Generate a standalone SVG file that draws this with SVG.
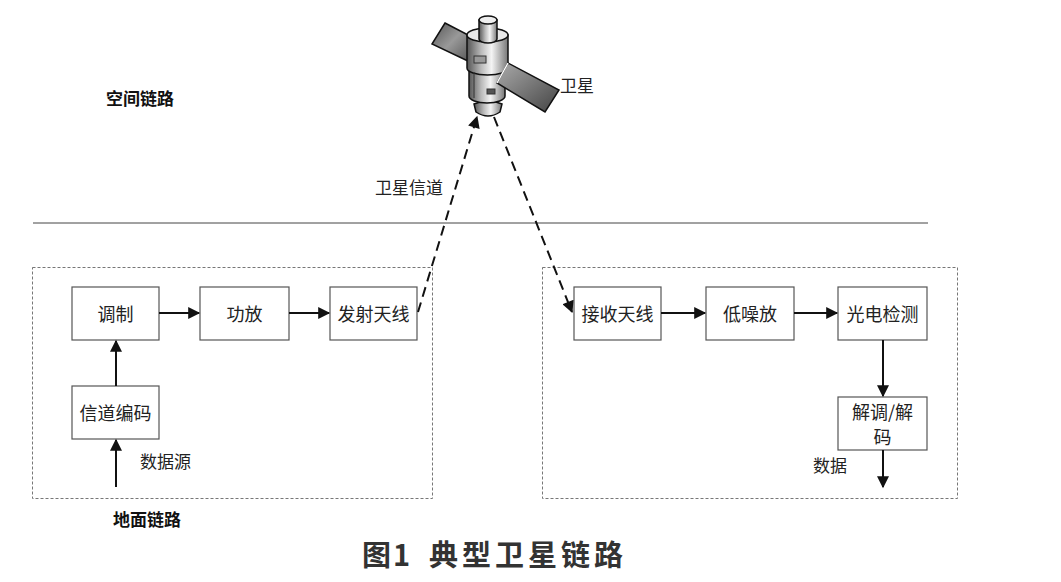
<svg xmlns="http://www.w3.org/2000/svg" width="1061" height="582" viewBox="0 0 1061 582">
<defs>
<style>
.box{fill:#fff;stroke:#555;stroke-width:1.2}
.grp{fill:none;stroke:#777;stroke-width:1;stroke-dasharray:3 2}
.t{font-family:"Noto Sans CJK SC","Noto Sans",sans-serif;font-size:18px;fill:#222;text-anchor:middle;dominant-baseline:central}
.tl{font-family:"Noto Sans CJK SC","Noto Sans",sans-serif;font-size:17px;fill:#222;dominant-baseline:central}
.b{font-weight:bold;fill:#111}
.ttl{font-family:"Noto Sans CJK SC","Noto Sans",sans-serif;font-size:29px;font-weight:bold;fill:#333}
.c{stroke:#111;stroke-width:2;fill:none}
.d{stroke:#111;stroke-width:2;fill:none;stroke-dasharray:10 6}
.sat{stroke:#111;stroke-width:1.5}
</style>
<marker id="ah" viewBox="0 0 10 10" refX="9" refY="5" markerWidth="7" markerHeight="6" orient="auto" markerUnits="strokeWidth">
<path d="M0,0 L10,5 L0,10 z" fill="#111"/>
</marker>
<linearGradient id="cyl" x1="0" y1="0" x2="1" y2="0">
<stop offset="0" stop-color="#555"/>
<stop offset="0.35" stop-color="#bbb"/>
<stop offset="0.6" stop-color="#f4f4f4"/>
<stop offset="1" stop-color="#777"/>
</linearGradient>
<linearGradient id="pan" x1="0" y1="0" x2="1" y2="1">
<stop offset="0" stop-color="#555"/>
<stop offset="0.5" stop-color="#999"/>
<stop offset="1" stop-color="#555"/>
</linearGradient>
<linearGradient id="pan2" x1="0" y1="0" x2="1" y2="1">
<stop offset="0" stop-color="#aaa"/>
<stop offset="1" stop-color="#444"/>
</linearGradient>
</defs>
<rect width="1061" height="582" fill="#fff"/>

<g id="satellite">
<polygon class="sat" points="445,23 470,36 470,62 432,44" fill="url(#pan)"/>
<path class="sat" d="M474,104 Q488,98 502,104 L500,112 Q488,120 476,112 Z" fill="url(#cyl)"/>
<path class="sat" d="M469,68 L469,96 A18,7 0 0 0 505,96 L505,68 Z" fill="url(#cyl)"/>
<path class="sat" d="M467,35 L467,68 A20.5,7 0 0 0 508,68 L508,35 Z" fill="url(#cyl)"/>
<ellipse class="sat" cx="487.5" cy="35" rx="20.5" ry="7" fill="#e8e8e8"/>
<path class="sat" d="M479,20 L479,39 A9,4 0 0 0 497,39 L497,20 Z" fill="url(#cyl)"/>
<ellipse class="sat" cx="488" cy="20" rx="9" ry="4" fill="#eee"/>
<rect x="474" y="56" width="12" height="7" fill="#999" stroke="#333" stroke-width="1"/>
<rect x="487" y="89" width="8" height="5" fill="#555" stroke="#333" stroke-width="1"/>
<line x1="474" y1="72" x2="474" y2="98" stroke="#333" stroke-width="1"/>
<polygon class="sat" points="508,63 497,83 545,112 559,90" fill="url(#pan2)"/>
<line x1="497" y1="83" x2="508" y2="63" stroke="#fff" stroke-width="1.5"/>
</g>

<g id="labels">
<text class="tl b" x="106" y="97">空间链路</text>
<text class="tl" x="560" y="84">卫星</text>
<text class="tl" x="375" y="186">卫星信道</text>
<text class="tl b" x="113" y="518">地面链路</text>
<text class="tl" x="140" y="460">数据源</text>
<text class="tl" x="813" y="464">数据</text>
<text class="ttl" x="362" y="566" letter-spacing="2">图1</text>
<text class="ttl" x="429" y="566" letter-spacing="4">典型卫星链路</text>
</g>

<line x1="33" y1="223" x2="928" y2="223" stroke="#444" stroke-width="1"/>

<g id="ground">
<rect class="grp" x="32.5" y="267.5" width="400" height="231"/>
</g>
<g id="receiver">
<rect class="grp" x="542.5" y="267.5" width="415" height="231"/>
</g>

<g id="n-mod"><rect class="box" x="72" y="287" width="87" height="53"/><text class="t" x="115.5" y="313">调制</text></g>
<g id="n-pa"><rect class="box" x="200" y="287" width="89" height="53"/><text class="t" x="244.5" y="313">功放</text></g>
<g id="n-tx"><rect class="box" x="330" y="287" width="87" height="53"/><text class="t" x="373.5" y="313">发射天线</text></g>
<g id="n-enc"><rect class="box" x="72" y="386" width="87" height="53"/><text class="t" x="115.5" y="412">信道编码</text></g>
<g id="n-rx"><rect class="box" x="574" y="287" width="87" height="53"/><text class="t" x="617.5" y="313">接收天线</text></g>
<g id="n-lna"><rect class="box" x="706" y="287" width="88" height="53"/><text class="t" x="750" y="313">低噪放</text></g>
<g id="n-pd"><rect class="box" x="838" y="287" width="89" height="53"/><text class="t" x="882.5" y="313">光电检测</text></g>
<g id="n-dem"><rect class="box" x="838" y="397" width="89" height="53"/><text class="t" x="882.5" y="411" font-size="17">解调/解</text><text class="t" x="882.5" y="436" font-size="17">码</text></g>

<g id="connectors">
<line class="c" x1="159" y1="313" x2="199" y2="313" marker-end="url(#ah)"/>
<line class="c" x1="289" y1="313" x2="329" y2="313" marker-end="url(#ah)"/>
<line class="c" x1="116" y1="386" x2="116" y2="341" marker-end="url(#ah)"/>
<line class="c" x1="116" y1="487" x2="116" y2="440" marker-end="url(#ah)"/>
<line class="c" x1="661" y1="313" x2="705" y2="313" marker-end="url(#ah)"/>
<line class="c" x1="794" y1="313" x2="837" y2="313" marker-end="url(#ah)"/>
<line class="c" x1="883" y1="340" x2="883" y2="396" marker-end="url(#ah)"/>
<line class="c" x1="883" y1="450" x2="883" y2="487" marker-end="url(#ah)"/>
<line class="d" x1="418" y1="312" x2="477" y2="117" marker-end="url(#ah)"/>
<line class="d" x1="494" y1="117" x2="572" y2="312" marker-end="url(#ah)"/>
</g>
</svg>
